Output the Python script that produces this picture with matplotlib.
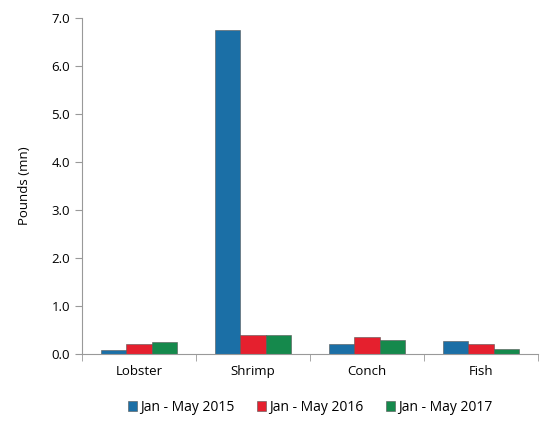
import numpy as np
import matplotlib.pyplot as plt

categories = ['Lobster', 'Shrimp', 'Conch', 'Fish']
series = ['Jan - May 2015', 'Jan - May 2016', 'Jan - May 2017']
v2015 = [0.08, 6.75, 0.21, 0.27]
v2016 = [0.20, 0.39, 0.35, 0.20]
v2017 = [0.26, 0.40, 0.29, 0.10]
colors = ['#1b6fa6', '#e5202e', '#15894c']

plt.rcParams['font.family'] = ['Open Sans', 'DejaVu Sans']

fig = plt.figure(figsize=(5.4, 4.21), dpi=100)
ax = fig.add_axes([82/540, 1-354/421, 456/540, 336/421])

x = np.arange(len(categories))
w = 0.225
for i, (vals, lab) in enumerate(zip([v2015, v2016, v2017], series)):
    ax.bar(x + (i-1)*w, vals, w, color=colors[i], label=lab,
           edgecolor='#555555', linewidth=0.4)

ax.set_xlim(-0.5, 3.5)
ax.set_ylim(0, 7)
ax.set_yticks(np.arange(0, 7.01, 1))
ax.set_yticklabels(['%.1f' % t for t in np.arange(0, 7.01, 1)])
ax.set_xticks(x)
ax.set_xticklabels(categories)
ax.set_xticks(np.arange(-0.5, 3.6, 1), minor=True)
ax.tick_params(axis='x', which='major', length=0, pad=8)
ax.tick_params(axis='x', which='minor', length=5, color='#999999')
ax.tick_params(axis='y', length=5, color='#999999')
ax.tick_params(labelsize=9.5)
for s in ['top', 'right']:
    ax.spines[s].set_visible(False)
for s in ['left', 'bottom']:
    ax.spines[s].set_color('#999999')
ax.set_ylabel('Pounds (mn)', fontsize=9.5, labelpad=15)

ax.legend(loc='upper center', bbox_to_anchor=(0.5, -0.1), ncol=3, frameon=False,
          fontsize=10, handlelength=0.7, handleheight=0.7, handletextpad=0.2,
          columnspacing=1.6)

fig.savefig('out.png', dpi=100)
